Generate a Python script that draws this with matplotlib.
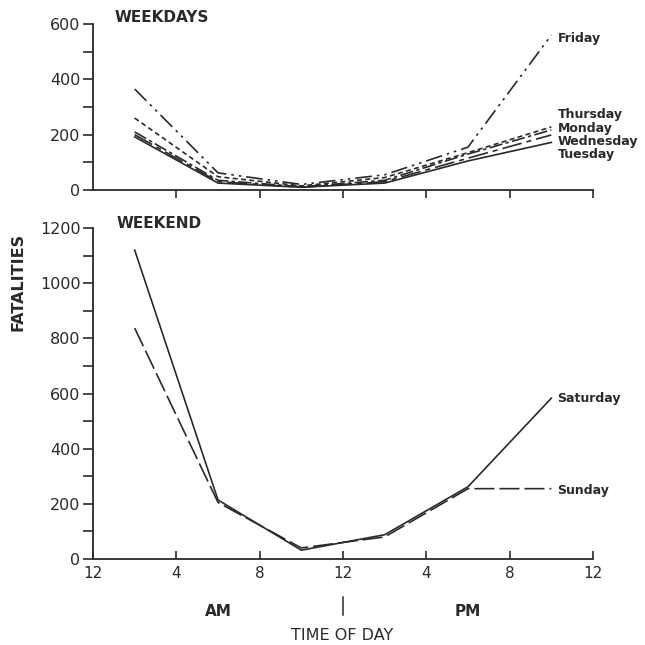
import matplotlib
matplotlib.use("Agg")
import matplotlib.pyplot as plt

hours = [2, 6, 10, 14, 18, 22]

weekday_names = ["Friday", "Thursday", "Monday", "Wednesday", "Tuesday"]
friday = [365, 62, 20, 55, 155, 560]
thursday = [260, 48, 15, 45, 135, 228]
monday = [210, 35, 12, 35, 130, 217]
wednesday = [200, 30, 10, 30, 115, 199]
tuesday = [192, 25, 10, 25, 105, 172]

saturday = [1120, 214, 32, 88, 262, 583]
sunday = [837, 205, 40, 80, 255, 255]

xtick_pos = [0, 4, 8, 12, 16, 20, 24]
xtick_labels = ["12", "4", "8", "12", "4", "8", "12"]

ink = "#2a2a2a"
plt.rcParams['font.family'] = ['DejaVu Sans']

fig = plt.figure(figsize=(6.45, 6.45), dpi=100)
fig.patch.set_facecolor("white")

W = 645.0
def fx(px):
    return px / W
def fy(py):
    return (W - py) / W

# axes geometry in pixels
x0, x1 = 93, 593
top_y0, top_y1 = 190, 24
bot_y0, bot_y1 = 559, 228

ax_top = fig.add_axes([fx(x0), fy(top_y0), (x1 - x0) / W, (top_y0 - top_y1) / W])
ax_bot = fig.add_axes([fx(x0), fy(bot_y0), (x1 - x0) / W, (bot_y0 - bot_y1) / W])

for ax in (ax_top, ax_bot):
    ax.set_xlim(0, 24)
    for s in ("top", "right"):
        ax.spines[s].set_visible(False)
    for s in ("left", "bottom"):
        ax.spines[s].set_color(ink)
        ax.spines[s].set_linewidth(1.3)
    ax.set_facecolor("white")

lw = 1.2
styles = {
    "Friday": (0, (10, 3, 1.5, 3, 1.5, 3)),
    "Thursday": (0, (3, 2)),
    "Monday": (0, (8, 2, 2, 2)),
    "Wednesday": (0, (12, 3, 3, 3)),
    "Tuesday": "-",
}
series = {"Friday": friday, "Thursday": thursday, "Monday": monday,
          "Wednesday": wednesday, "Tuesday": tuesday}
for name in weekday_names:
    ax_top.plot(hours, series[name], color=ink, lw=lw, linestyle=styles[name],
                clip_on=False)

ax_top.set_ylim(0, 600)
ax_top.set_yticks([0, 200, 400, 600])
ax_top.set_yticks([100, 300, 500], minor=True)
ax_top.set_xticks(xtick_pos[1:])
ax_top.set_xticklabels([])
ax_top.tick_params(axis="x", direction="out", length=6, width=1.2, color=ink)
ax_top.tick_params(axis="y", which="both", direction="out", length=7, width=1.2,
                   color=ink, labelsize=11.5, labelcolor=ink, pad=2)

label_y_top = {"Friday": 549, "Thursday": 274, "Monday": 224,
               "Wednesday": 177, "Tuesday": 130}
for name in weekday_names:
    ax_top.text(22.3, label_y_top[name], name, fontsize=9, fontweight="bold",
                color=ink, ha="left", va="center", clip_on=False)

# bottom panel
ax_bot.plot(hours, saturday, color=ink, lw=lw, linestyle="-", clip_on=False)
ax_bot.plot(hours, sunday, color=ink, lw=lw, linestyle=(0, (12, 3)), clip_on=False)
ax_bot.set_ylim(0, 1200)
ax_bot.set_yticks([0, 200, 400, 600, 800, 1000, 1200])
ax_bot.set_yticks([100, 300, 500, 700, 900, 1100], minor=True)
ax_bot.set_xticks(xtick_pos)
ax_bot.set_xticklabels(xtick_labels)
ax_bot.tick_params(axis="x", direction="in", length=6, width=1.2, color=ink,
                   labelsize=11, labelcolor=ink, pad=5)
ax_bot.tick_params(axis="y", which="both", direction="out", length=7, width=1.2,
                   color=ink, labelsize=11.5, labelcolor=ink, pad=2)

ax_bot.text(22.3, 583, "Saturday", fontsize=9, fontweight="bold", color=ink,
            ha="left", va="center", clip_on=False)
ax_bot.text(22.3, 250, "Sunday", fontsize=9, fontweight="bold", color=ink,
            ha="left", va="center", clip_on=False)

tr = ax_bot.get_xaxis_transform()
ax_bot.plot([12, 12], [-0.115, -0.168], color=ink, lw=1.1, transform=tr, clip_on=False)
ax_bot.text(6, -0.16, "AM", transform=tr, fontsize=11, fontweight="bold",
            color=ink, ha="center", va="center")
ax_bot.text(18, -0.16, "PM", transform=tr, fontsize=11, fontweight="bold",
            color=ink, ha="center", va="center")

fig.text(fx(342), fy(636), "TIME OF DAY", fontsize=11.5, color=ink,
         ha="center", va="center")
fig.text(fx(18), fy(282), "FATALITIES", fontsize=11.5, fontweight="bold",
         color=ink, ha="center", va="center", rotation=90)
fig.text(fx(115), fy(18), "WEEKDAYS", fontsize=11, fontweight="bold",
         color=ink, ha="left", va="center")
fig.text(fx(117), fy(223), "WEEKEND", fontsize=11, fontweight="bold", color=ink,
         ha="left", va="center")

fig.savefig("out.png", dpi=100, facecolor="white")
